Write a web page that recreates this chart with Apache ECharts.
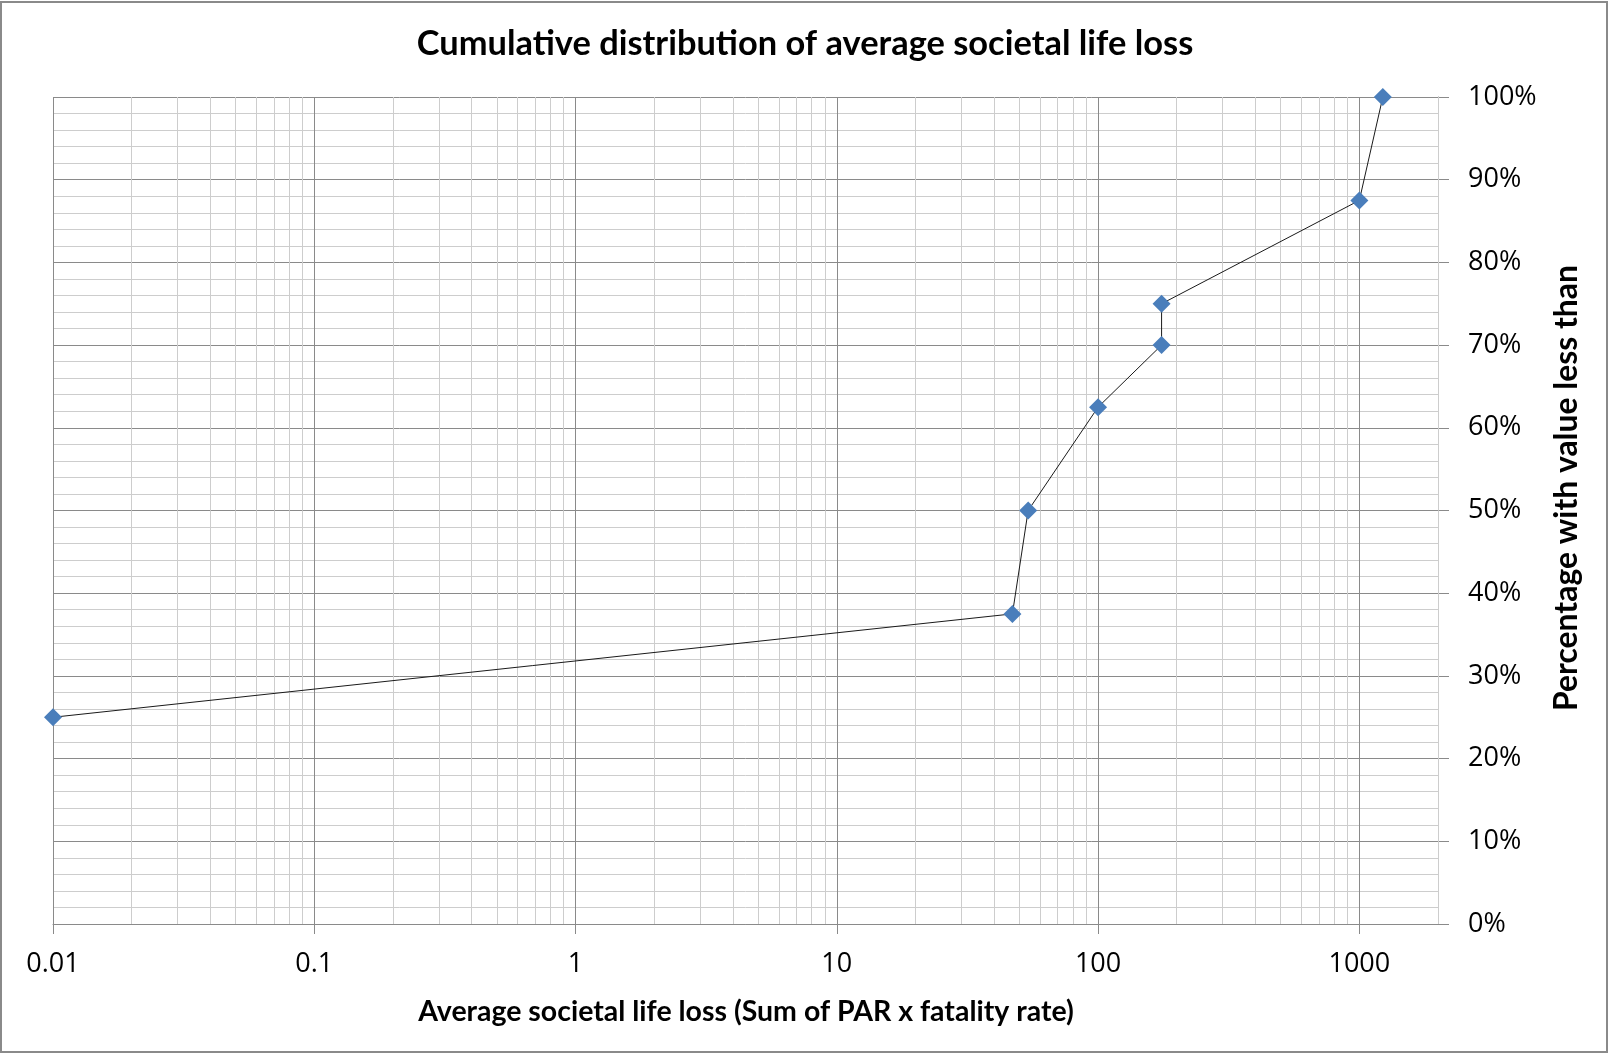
<!DOCTYPE html>
<html>
<head>
<meta charset="utf-8">
<script src="https://cdn.jsdelivr.net/npm/echarts@6/dist/echarts.min.js"></script>
<style>
  html, body { margin: 0; padding: 0; background: #fff; }
  #chart { width: 1609px; height: 1054px; }
</style>
</head>
<body>
<div id="chart"></div>
<script>
// ---- data ----
const chartTitle = 'Cumulative distribution of average societal life loss';
const xAxisTitle = 'Average societal life loss (Sum of PAR x fatality rate)';
const yAxisTitle = 'Percentage with value less than';
const lifeLoss = [0.01, 47, 54, 100, 175, 175, 1000, 1230];
const cumulativeShare = [0.25, 0.375, 0.50, 0.625, 0.70, 0.75, 0.875, 1.0];
const xTickLabels = ['0.01', '0.1', '1', '10', '100', '1000'];
const minorMultipliers = [2, 3, 4, 5, 6, 7, 8, 9];

// ---- helpers ----
const measureCtx = document.createElement('canvas').getContext('2d');
function fitSize(text, weight, family, target) {
  measureCtx.font = weight + ' 100px ' + family;
  return 100 * target / measureCtx.measureText(text).width;
}
const titleFont = 'Lato';
const titleSize = fitSize(chartTitle, 'bold', titleFont, 777);
const xNameSize = fitSize(xAxisTitle, 'bold', titleFont, 656);
const yNameSize = fitSize(yAxisTitle, 'bold', titleFont, 446);

const minorX = [];
xTickLabels.forEach(function (l) {
  const base = parseFloat(l);
  minorMultipliers.forEach(function (m) { minorX.push(base * m); });
});
const decadeValues = xTickLabels.map(function (l) { return parseFloat(l); });

const seriesData = lifeLoss.map(function (x, i) { return [x, cumulativeShare[i]]; });

const major = '#8a8a8a';
const minor = '#cdcdcd';

const chart = echarts.init(document.getElementById('chart'), null, { renderer: 'canvas' });
chart.setOption({
  backgroundColor: '#ffffff',
  animation: false,
  grid: { left: 53, right: 171, top: 97, bottom: 130, containLabel: false },
  xAxis: {
    type: 'log',
    logBase: 10,
    min: 0.01,
    max: 2000,
    axisLine: { show: true, lineStyle: { color: major, width: 1 } },
    axisTick: { show: true, length: 10, customValues: decadeValues, lineStyle: { color: major } },
    axisLabel: {
      margin: 27,
      fontFamily: 'Open Sans',
      fontSize: 27,
      color: '#000',
      formatter: function (v) {
        const hit = xTickLabels.find(function (l) { return Math.abs(parseFloat(l) - v) < parseFloat(l) * 1e-6; });
        return hit || '';
      }
    },
    splitLine: { show: true, lineStyle: { color: major, width: 1 } },
    minorTick: { show: false },
    minorSplitLine: { show: false }
  },
  yAxis: {
    type: 'value',
    position: 'right',
    min: 0,
    max: 1,
    interval: 0.1,
    splitNumber: 5,
    axisLine: { show: true, lineStyle: { color: major, width: 1 } },
    axisTick: { show: true, length: 11, lineStyle: { color: major } },
    axisLabel: {
      margin: 30,
      fontFamily: 'Open Sans',
      fontSize: 27,
      color: '#000',
      formatter: function (v) { return Math.round(v * 100) + '%'; }
    },
    splitLine: { show: true, lineStyle: { color: major, width: 1 } },
    minorTick: { show: false, splitNumber: 5 },
    minorSplitLine: { show: true, lineStyle: { color: minor, width: 1 } }
  },
  series: [
    {
      type: 'line',
      data: [],
      silent: true,
      z: 1,
      markLine: {
        silent: true,
        symbol: ['none', 'none'],
        label: { show: false },
        lineStyle: { color: minor, width: 1, type: 'solid' },
        emphasis: { disabled: true },
        data: minorX.map(function (v) { return { xAxis: v }; })
      }
    },
    {
      type: 'line',
      data: seriesData,
      clip: false,
      symbol: 'diamond',
      symbolSize: 18,
      itemStyle: { color: '#4a7ebb' },
      lineStyle: { color: '#1a1a1a', width: 1 },
      z: 5
    }
  ],
  graphic: [
    {
      type: 'rect',
      shape: { x: 1, y: 2, width: 1606, height: 1050 },
      style: { fill: 'none', stroke: '#8a8a8a', lineWidth: 2 },
      silent: true
    },
    {
      type: 'text',
      x: 805, y: 44,
      style: {
        text: chartTitle, fontFamily: titleFont, fontWeight: 'bold', fontSize: titleSize,
        fill: '#000', textAlign: 'center', textVerticalAlign: 'middle', align: 'center', verticalAlign: 'middle'
      }
    },
    {
      type: 'text',
      x: 746, y: 1012,
      style: {
        text: xAxisTitle, fontFamily: titleFont, fontWeight: 'bold', fontSize: xNameSize,
        fill: '#000', textAlign: 'center', textVerticalAlign: 'middle', align: 'center', verticalAlign: 'middle'
      }
    },
    {
      type: 'text',
      x: 1567, y: 488,
      rotation: Math.PI / 2,
      style: {
        text: yAxisTitle, fontFamily: titleFont, fontWeight: 'bold', fontSize: yNameSize,
        fill: '#000', textAlign: 'center', textVerticalAlign: 'middle', align: 'center', verticalAlign: 'middle'
      }
    }
  ]
});
</script>
</body>
</html>
